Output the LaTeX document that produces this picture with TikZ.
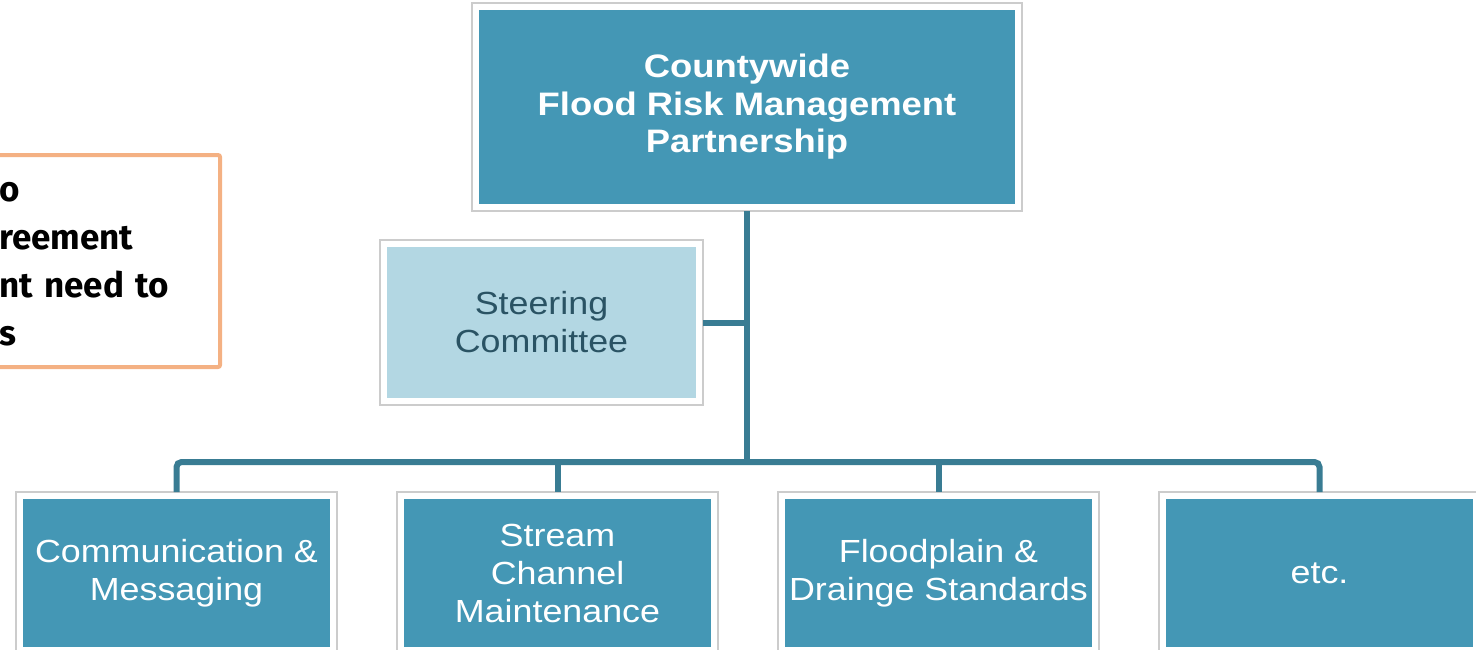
\documentclass[tikz,border=0pt]{standalone}
\usepackage{fontspec}
\setmainfont{Liberation Sans}[FakeStretch=1.12]
\newfontfamily\notefont{Fira Sans}
\usetikzlibrary{positioning,backgrounds}

\definecolor{boxblue}{HTML}{4497B5}
\definecolor{paleblue}{HTML}{B3D7E3}
\definecolor{linkblue}{HTML}{397C93}
\definecolor{framegray}{HTML}{CCCCCC}
\definecolor{noteorange}{HTML}{F4B183}
\definecolor{steertext}{HTML}{2A5364}

\begin{document}
\begin{tikzpicture}[
        x=1pt, y=-1pt,
        node distance=74pt,
        unit/.style={rectangle, fill=boxblue, text=white, inner sep=0pt, outer sep=0pt,
            align=center, minimum width=307pt, minimum height=148pt,
            font=\fontsize{32}{38}\selectfont},
        link/.style={draw=linkblue, line width=6pt},
        frame/.style={draw=framegray, fill=white, line width=1.2pt},
        note/.style={draw=noteorange, line width=4pt, fill=white, rounded corners=2pt,
            align=left, text width=210pt, inner xsep=11pt, minimum height=212pt,
            font=\notefont\bfseries\fontsize{35}{48}\selectfont}
    ]
    \useasboundingbox (0,0) rectangle (1476,649);
    \clip (0,0) rectangle (1476,649);

    % note on the left, cut off by the page
    \node[note] (note) at (104,261) {};
    \node[note, draw=none, fill=none] (notetext) at (104,264) {o\\reement\\nt need to\\s};

    % partnership and committee
    \node[unit, minimum width=536pt, minimum height=194pt,
        font=\bfseries\fontsize{32.5}{37.5}\selectfont] (fpm) at (747,107)
        {Countywide\\Flood Risk Management\\Partnership};
    \node[unit, fill=paleblue, text=steertext, minimum width=309pt, minimum height=151pt]
        (steer) at (541.5,322.5) {Steering\\Committee};

    % working groups
    \node[unit] (comm) at (176.5,573) {Communication \&\\Messaging};
    \node[unit, right=of comm] (stream) {Stream\\Channel\\Maintenance};
    \node[unit, right=of stream] (flood) {Floodplain \&\\Drainge Standards};
    \node[unit, right=of flood] (etc) {etc.};

    \begin{scope}[on background layer]
        \foreach \n in {fpm,steer,comm,stream,flood,etc}
            \draw[frame] ([shift={(-7pt,-7pt)}]\n.south west) rectangle ([shift={(7pt,7pt)}]\n.north east);
    \end{scope}

    % connectors
    \coordinate (bus) at (747,462);
    \draw[link] ([yshift=-7pt]fpm.south) -- (bus);
    \draw[link] ([xshift=7pt]steer.east) -- (steer.east -| bus);
    \draw[link, rounded corners=5pt] ([yshift=7pt]comm.north) |- (bus) -| ([yshift=7pt]etc.north);
    \foreach \n in {stream,flood}
        \draw[link] (\n.north |- bus) -- ([yshift=7pt]\n.north);
\end{tikzpicture}
\end{document}
